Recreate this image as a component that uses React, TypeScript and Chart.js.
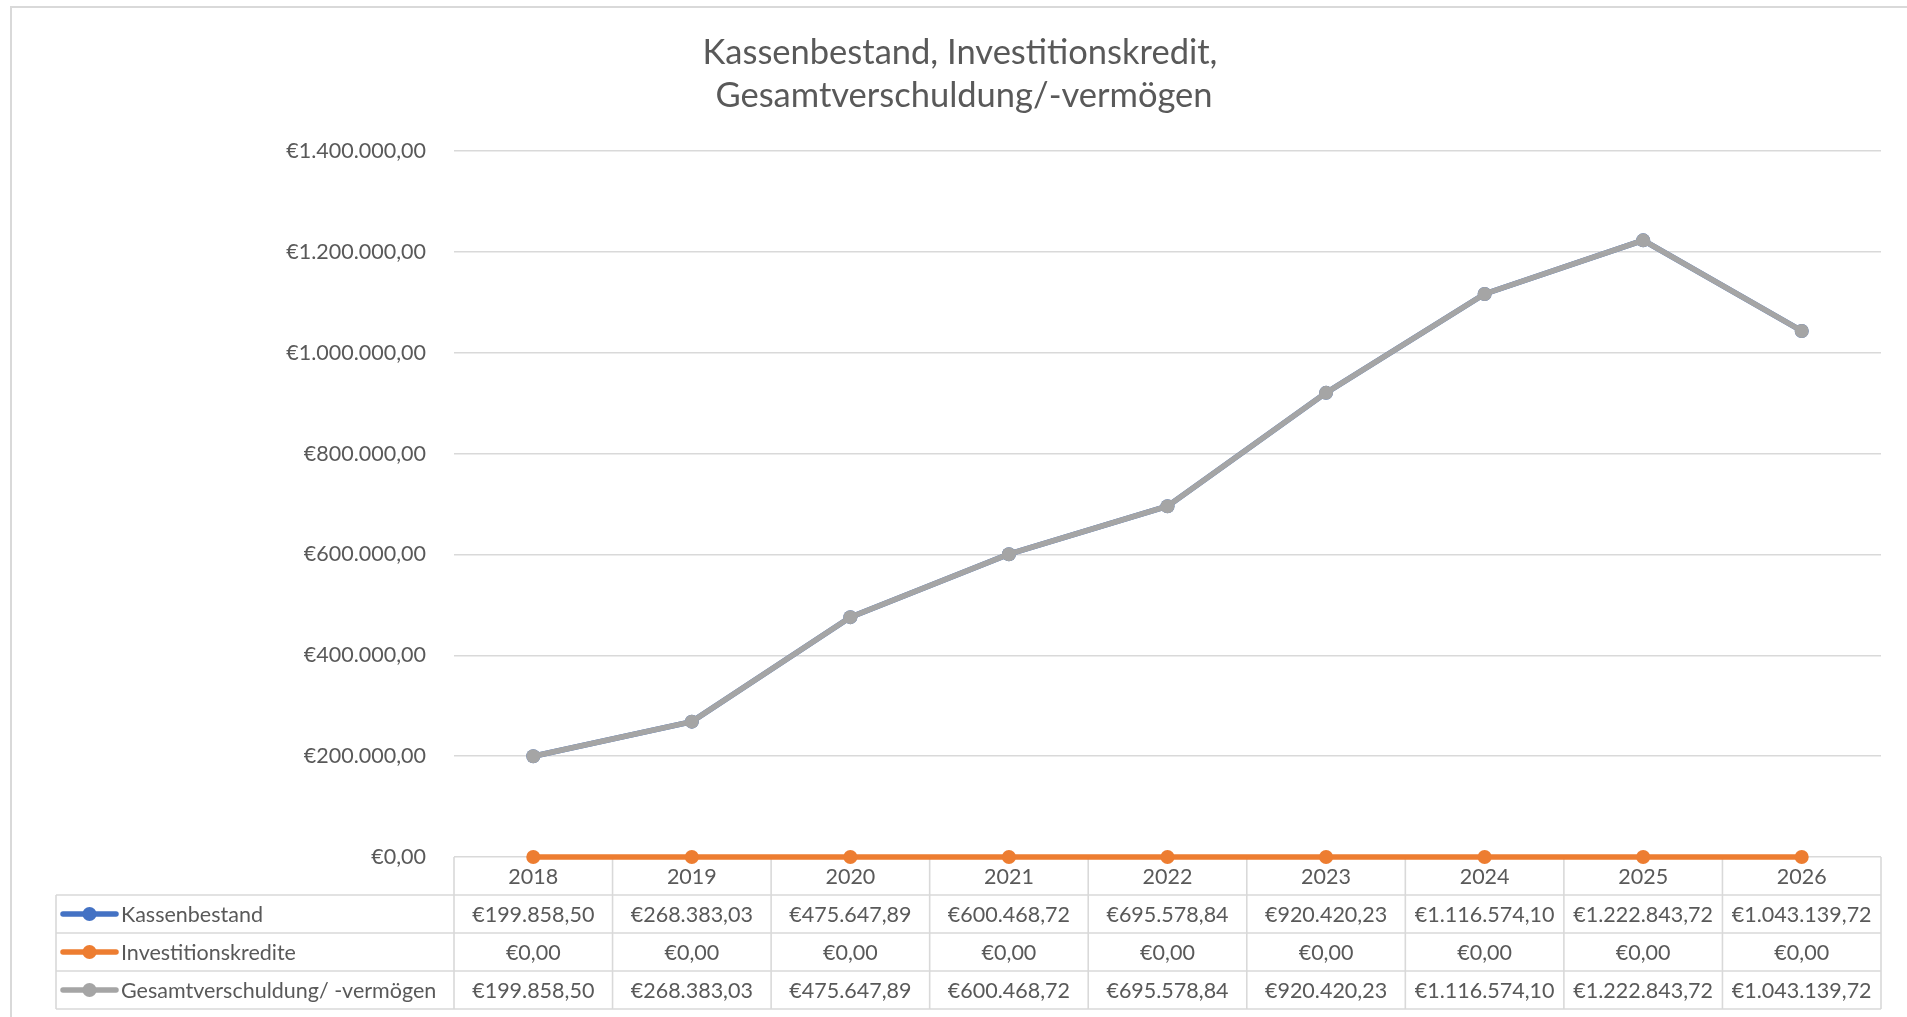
import React, { useEffect, useRef } from 'react';
import { Chart, registerables } from 'chart.js';

Chart.register(...registerables);

const years = ['2018', '2019', '2020', '2021', '2022', '2023', '2024', '2025', '2026'];
const kassenbestand = [199858.5, 268383.03, 475647.89, 600468.72, 695578.84, 920420.23, 1116574.1, 1222843.72, 1043139.72];
const investitionskredite = [0, 0, 0, 0, 0, 0, 0, 0, 0];
const gesamtverschuldung = [199858.5, 268383.03, 475647.89, 600468.72, 695578.84, 920420.23, 1116574.1, 1222843.72, 1043139.72];
const seriesNames = ['Kassenbestand', 'Investitionskredite', 'Gesamtverschuldung/ -vermögen'];
const seriesColors = ['#4472C4', '#ED7D31', '#A5A5A5'];
const titleLines = ['Kassenbestand, Investitionskredit,', 'Gesamtverschuldung/-vermögen'];
const yMin = 0;
const yMax = 1400000;
const yStep = 200000;

const FONT = 'Lato, "Open Sans", sans-serif';
const TEXT = '#595959';
const GRID = '#D9D9D9';
const FS = 21.5;

function fmtEuro(v: number): string {
  const neg = v < 0;
  const fixed = Math.abs(v).toFixed(2);
  const [intPart, dec] = fixed.split('.');
  const intS = intPart.replace(/\B(?=(\d{3})+(?!\d))/g, '.');
  return (neg ? '-' : '') + '€' + intS + ',' + dec;
}

const tablePlugin = {
  id: 'dataTable',
  beforeDatasetsDraw(chart: any) {
    const { ctx, chartArea } = chart;
    const xs = chart.scales.x;
    const n = years.length;
    const band = (chartArea.right - chartArea.left) / n;
    const top = chartArea.bottom;
    const rowH = 38;
    const leftX = 56;
    const rows = [top, top + rowH, top + 2 * rowH, top + 3 * rowH, top + 4 * rowH];
    ctx.save();
    ctx.strokeStyle = GRID;
    ctx.lineWidth = 1.6;
    for (let r = 1; r < rows.length; r++) {
      ctx.beginPath();
      ctx.moveTo(leftX, rows[r]);
      ctx.lineTo(chartArea.right, rows[r]);
      ctx.stroke();
    }
    for (let i = 0; i <= n; i++) {
      const x = chartArea.left + i * band;
      ctx.beginPath();
      ctx.moveTo(x, top);
      ctx.lineTo(x, rows[4]);
      ctx.stroke();
    }
    ctx.beginPath();
    ctx.moveTo(leftX, rows[1]);
    ctx.lineTo(leftX, rows[4]);
    ctx.stroke();

    ctx.fillStyle = TEXT;
    ctx.font = `${FS}px ${FONT}`;
    ctx.textAlign = 'center';
    ctx.textBaseline = 'middle';
    years.forEach((y, i) => {
      const cx = xs.getPixelForValue(i);
      ctx.fillText(y, cx, (rows[0] + rows[1]) / 2 + 1);
    });
    const series = [kassenbestand, investitionskredite, gesamtverschuldung];
    series.forEach((vals, s) => {
      const cy = (rows[s + 1] + rows[s + 2]) / 2 + 1;
      vals.forEach((v, i) => {
        const cx = xs.getPixelForValue(i);
        ctx.fillStyle = TEXT;
        ctx.textAlign = 'center';
        ctx.fillText(fmtEuro(v), cx, cy);
      });
      ctx.strokeStyle = seriesColors[s];
      ctx.lineWidth = 5.5;
      ctx.lineCap = 'round';
      ctx.beginPath();
      ctx.moveTo(63, cy - 1);
      ctx.lineTo(116, cy - 1);
      ctx.stroke();
      ctx.fillStyle = seriesColors[s];
      ctx.beginPath();
      ctx.arc(89.5, cy - 1, 7, 0, Math.PI * 2);
      ctx.fill();
      ctx.fillStyle = TEXT;
      ctx.textAlign = 'left';
      ctx.fillText(seriesNames[s], 121, cy);
    });
    ctx.restore();
  },
  afterDraw(chart: any) {
    const { ctx } = chart;
    ctx.save();
    ctx.fillStyle = TEXT;
    ctx.font = `34.5px ${FONT}`;
    ctx.textAlign = 'center';
    ctx.textBaseline = 'middle';
    ctx.fillText(titleLines[0], 960, 53);
    ctx.fillText(titleLines[1], 964, 96);
    ctx.restore();
  },
};

export default function App() {
  const ref = useRef<HTMLCanvasElement>(null);
  useEffect(() => {
    if (!ref.current) return;
    const mk = (label: string, data: number[], color: string, order: number) => ({
      label,
      data,
      order,
      borderColor: color,
      backgroundColor: color,
      borderWidth: 5.5,
      pointRadius: 7,
      pointHoverRadius: 7,
      pointBorderWidth: 0,
      pointBackgroundColor: color,
      tension: 0,
      clip: false as any,
    });
    const chart = new Chart(ref.current, {
      type: 'line',
      data: {
        labels: years,
        datasets: [
          mk(seriesNames[0], kassenbestand, seriesColors[0], 3),
          mk(seriesNames[1], investitionskredite, seriesColors[1], 2),
          mk(seriesNames[2], gesamtverschuldung, seriesColors[2], 1),
        ],
      },
      options: {
        animation: false,
        responsive: false,
        devicePixelRatio: 1,
        layout: { padding: { top: 151, right: 26, bottom: 160, left: 0 } },
        plugins: {
          legend: { display: false },
          title: { display: false },
          tooltip: { enabled: false },
        },
        scales: {
          x: {
            display: false,
            offset: true,
          },
          y: {
            min: yMin,
            max: yMax,
            afterFit(scale: any) {
              scale.width = 454;
            },
            ticks: {
              stepSize: yStep,
              padding: 28,
              color: TEXT,
              font: { family: FONT, size: FS },
              callback: (v: any) => fmtEuro(Number(v)),
            },
            grid: { color: GRID, lineWidth: 1.4, drawTicks: false },
            border: { display: false },
          },
        },
      },
      plugins: [tablePlugin],
    });
    return () => chart.destroy();
  }, []);
  return (
    <div style={{ position: 'absolute', left: 0, top: 0, width: 1907, height: 1017, overflow: 'hidden', background: '#fff' }}>
      <div style={{ position: 'absolute', left: 10, top: 6, width: 1960, height: 1100, border: `2px solid ${GRID}`, boxSizing: 'border-box' }} />
      <canvas ref={ref} width={1907} height={1017} style={{ position: 'absolute', left: 0, top: 0 }} />
    </div>
  );
}
